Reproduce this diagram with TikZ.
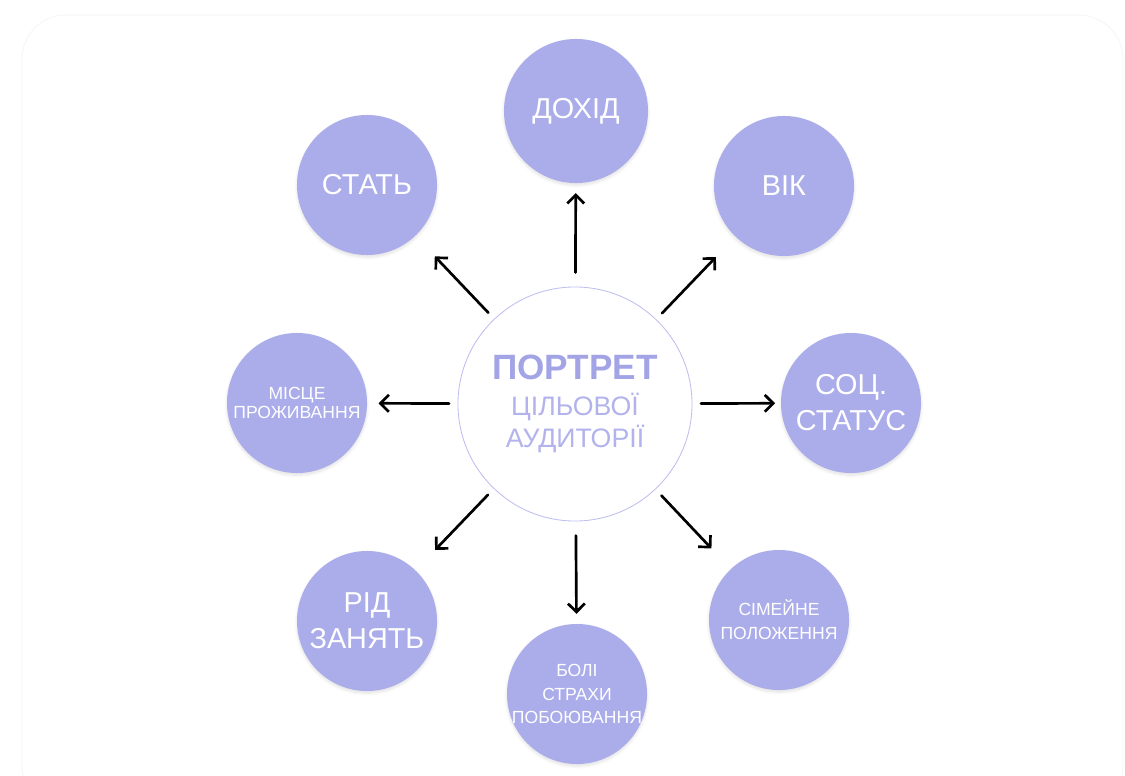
\documentclass[tikz,border=0pt]{standalone}
\usepackage{fontspec}
\setmainfont{Liberation Sans}
\usetikzlibrary{arrows.meta,shadows.blur}

\definecolor{lav}{RGB}{171,172,234}
\definecolor{lavtext}{RGB}{163,164,230}
\definecolor{lavlight}{RGB}{178,179,236}
\definecolor{lavline}{RGB}{190,190,240}

\begin{document}
\begin{tikzpicture}[x=0.025cm,y=-0.025cm]
    % Styles
    \tikzset{
        sat/.style={circle,fill=lav,text=white,minimum size=3.5cm,inner sep=-4pt,align=center,
            blur shadow={shadow xshift=0pt,shadow yshift=-1.5pt,shadow blur steps=6,shadow opacity=12}},
        big/.style={font=\fontsize{20.5}{25.5}\selectfont},
        small/.style={font=\fontsize{12.5}{16.5}\selectfont},
        centre/.style={circle,draw=lavline,line width=0.6pt,fill=white,minimum size=5.85cm,inner sep=0pt,align=center},
        arr/.style={-{Straight Barb[length=6pt,width=12pt]},line width=1.9pt,line cap=round},
    }
    \useasboundingbox (0,0) rectangle (1125,776);
    \draw[black!3,line width=0.8pt,rounded corners=1.1cm] (22,15) rectangle (1123,810);

    % Centre
    \node[centre,text=lavlight,font=\fontsize{19}{22.5}\selectfont] (portret) at (575,404) {%
        \textcolor{lavtext}{\fontsize{25}{30}\selectfont\bfseries ПОРТРЕТ}\\[3pt]
        ЦІЛЬОВОЇ\\АУДИТОРІЇ};

    % Satellites
    \node[sat,big,minimum size=3.6cm] (dohid) at (576,111) {ДОХІД};
    \node[sat,big] (vik) at (784,186) {ВІК};
    \node[sat,big] (status) at (851,403) {СОЦ.\\СТАТУС};
    \node[sat,small,font=\fontsize{12.5}{17}\selectfont] (simya) at (779,620) {СІМЕЙНЕ\\ПОЛОЖЕННЯ};
    \node[sat,small] (boli) at (577,694) {БОЛІ\\СТРАХИ\\ПОБОЮВАННЯ};
    \node[sat,big] (zanyat) at (367,621) {РІД\\ЗАНЯТЬ};
    \node[sat,small,font=\fontsize{12.5}{13}\selectfont] (misce) at (297,403) {МІСЦЕ\\ПРОЖИВАННЯ};
    \node[sat,big] (stat) at (367,185) {СТАТЬ};

    % Arrows
    \draw[arr,shorten <=10pt,shorten >=7pt] (portret) -- (dohid);
    \draw[arr,shorten <=6pt,shorten >=20pt] (portret) -- (vik);
    \draw[arr,shorten <=6pt,shorten >=4pt] (portret) -- (status);
    \draw[arr,shorten <=6pt,shorten >=20pt] (portret) -- (simya);
    \draw[arr,shorten <=10pt,shorten >=7pt] (portret) -- (boli);
    \draw[arr,shorten <=6pt,shorten >=20pt] (portret) -- (zanyat);
    \draw[arr,shorten <=6pt,shorten >=8pt] (portret) -- (misce);
    \draw[arr,shorten <=6pt,shorten >=20pt] (portret) -- (stat);
\end{tikzpicture}
\end{document}
